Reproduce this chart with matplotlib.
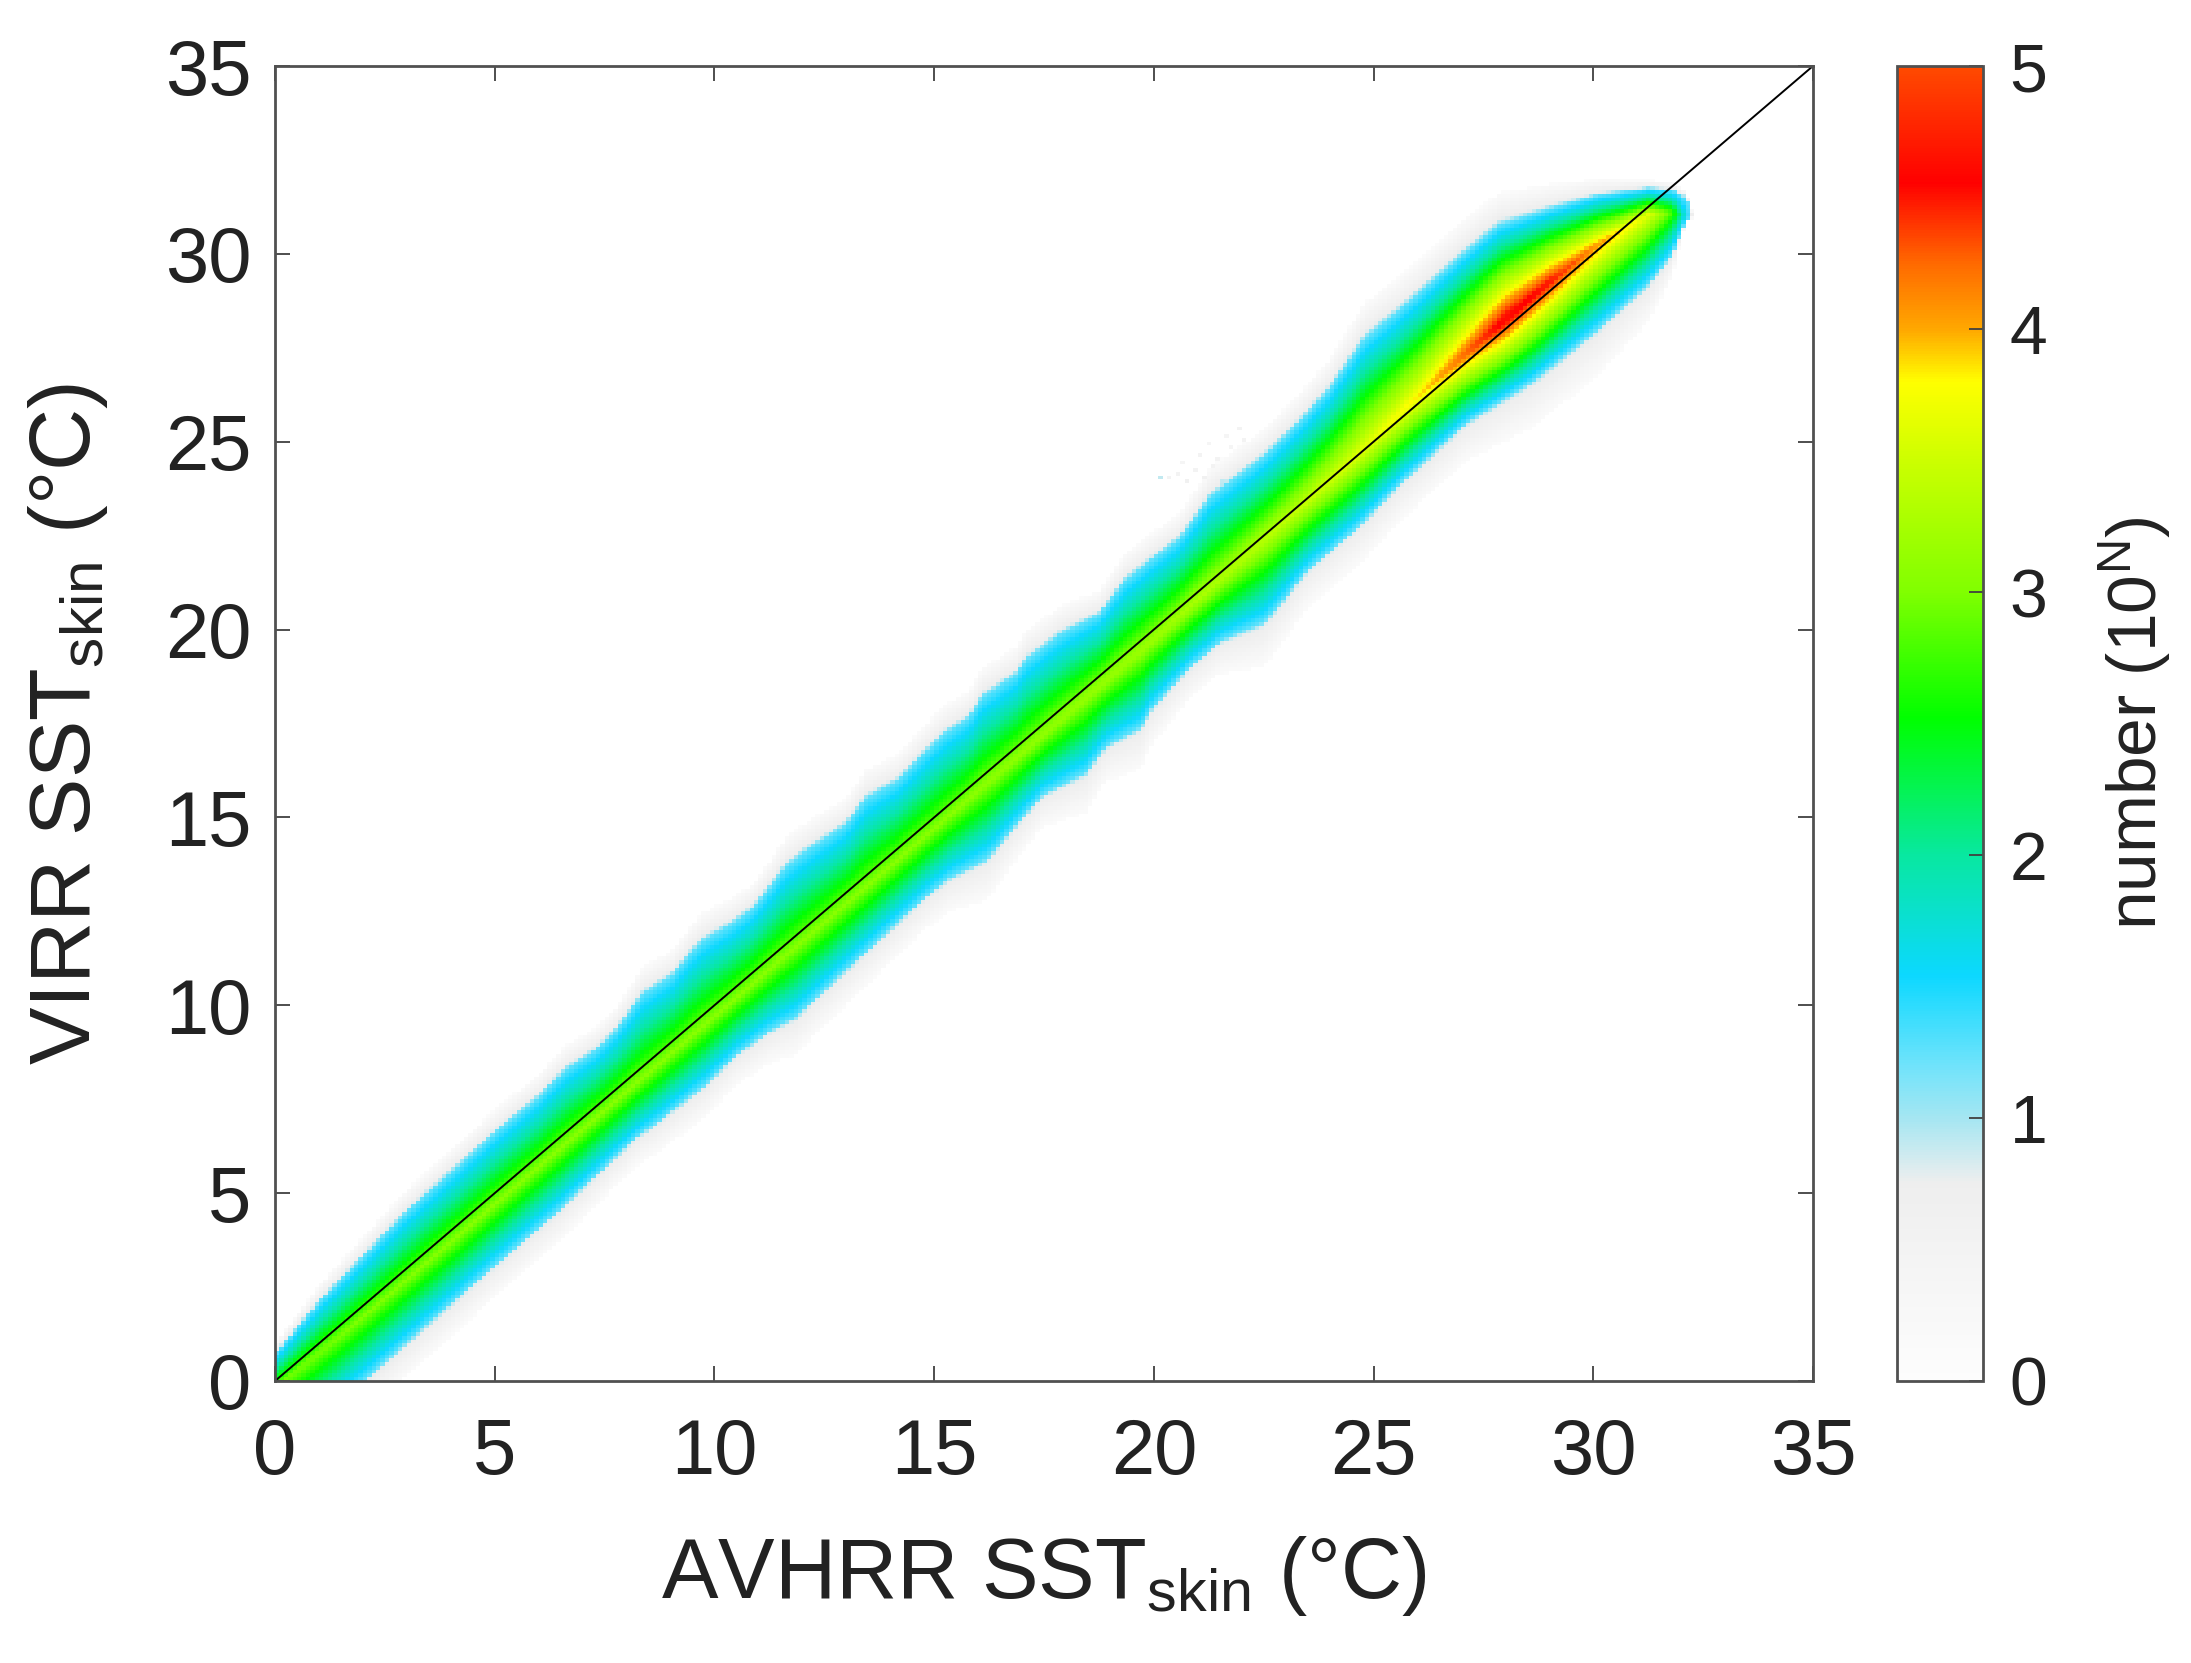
import numpy as np
import matplotlib
matplotlib.use("Agg")
import matplotlib.pyplot as plt
from matplotlib.colors import LinearSegmentedColormap

plt.rcParams['font.family'] = ['Liberation Sans', 'DejaVu Sans']
plt.rcParams['mathtext.fontset'] = 'custom'
plt.rcParams['mathtext.rm'] = 'Liberation Sans'
plt.rcParams['mathtext.default'] = 'rm'

# Ridge of the band and its peak level (deg C, log10 count)
ridge_x = [0.0, 2.0, 5.0, 10.0, 15.0, 20.0, 23.0, 24.5, 26.0, 27.1, 28.0, 29.0, 30.1, 31.25, 31.8, 32.1, 32.3]
ridge_y = [-0.2, 1.7, 4.7, 9.7, 14.7, 19.75, 22.9, 24.5, 26.2, 27.35, 28.25, 29.25, 30.25, 31.05, 31.1, 31.0, 31.0]
peak_level = [2.95, 3.0, 3.05, 3.05, 3.05, 3.2, 3.4, 3.6, 3.85, 4.3, 4.7, 4.55, 4.1, 3.65, 2.8, 1.6, 0.8]

# Edge of the cyan zone above the ridge
upper_x = [0.0, 1.0, 2.0, 3.0, 5.1, 6.02, 6.6, 7.3, 7.76, 8.37, 9.05, 9.45, 9.75, 10.4, 10.9, 11.63, 12.08, 12.99, 13.45, 14.2, 14.6, 15.2, 15.8, 16.1, 16.86, 17.1, 17.9, 18.75, 19.35, 20.0, 20.57, 21.0, 21.25, 21.7, 22.5, 23.3, 24.0, 24.8, 25.6, 27.1, 27.85, 29.0, 30.1, 31.25, 31.8, 32.1, 32.3]
upper_y = [0.7, 2.1, 3.3, 4.5, 6.7, 7.57, 8.27, 8.8, 9.33, 10.3, 10.8, 11.37, 11.73, 12.17, 12.6, 13.7, 14.1, 14.8, 15.5, 16.0, 16.5, 17.2, 17.66, 18.2, 18.8, 19.2, 19.9, 20.4, 21.3, 21.9, 22.4, 23.06, 23.5, 23.9, 24.6, 25.5, 26.4, 27.75, 28.5, 30.05, 30.76, 31.2, 31.56, 31.74, 31.7, 31.5, 31.1]

# Edge of the cyan zone below the ridge
lower_x = [0.0, 2.0, 5.0, 6.45, 8.22, 8.75, 9.8, 10.5, 11.25, 11.85, 12.3, 14.8, 15.35, 16.2, 16.5, 16.85, 17.46, 18.45, 18.9, 19.7, 19.95, 20.8, 21.5, 22.5, 22.95, 23.5, 24.7, 25.6, 27.1, 28.6, 30.1, 31.25, 31.8, 32.1, 32.3]
lower_y = [-2.0, 0.0, 3.1, 4.55, 6.5, 6.94, 7.9, 8.7, 9.33, 9.7, 10.2, 12.9, 13.4, 13.9, 14.3, 14.8, 15.6, 16.2, 16.9, 17.4, 17.9, 19.0, 19.7, 20.2, 20.8, 21.6, 22.8, 23.9, 25.5, 26.6, 28.0, 29.2, 30.0, 30.9, 30.95]

# Stray sparse cells above the band around (21, 24)
stray_x = [20.3, 20.5, 20.7, 20.9, 21.1, 21.3, 20.6, 21.0, 21.4, 21.7, 21.2, 21.6, 21.9, 21.5, 22.0, 20.1, 21.8]
stray_y = [24.0, 24.1, 23.9, 24.2, 24.0, 24.3, 24.4, 24.6, 24.5, 24.8, 24.9, 25.1, 25.3, 23.9, 25.0, 24.0, 24.1]
stray_n = [0.5, 0.5, 0.6, 0.5, 0.6, 0.5, 0.4, 0.5, 0.5, 0.4, 0.4, 0.4, 0.5, 0.9, 0.5, 0.9, 0.8]

# Colormap: level and colour
cmap_levels = [0, 0.3, 0.75, 1.0, 1.2, 1.54, 2.0, 2.52, 3.0, 3.5, 3.8, 4.0, 4.25, 4.56, 5.0]
cmap_colors = ['#fdfdfd', '#f7f7f7', '#eeeeee', '#a4e6f2', '#6fe3fb', '#0cd8ff', '#08e8a0', '#00ff00',
               '#80ff00', '#ccff00', '#ffff00', '#ffa800', '#ff6a00', '#ff0000', '#ff4a00']

x_ticks = [0, 5, 10, 15, 20, 25, 30, 35]
y_ticks = [0, 5, 10, 15, 20, 25, 30, 35]
cbar_ticks = [0, 1, 2, 3, 4, 5]
x_label = 'AVHRR SST$_{\\mathrm{skin}}$ (°C)'
y_label = 'VIRR SST$_{\\mathrm{skin}}$ (°C)'
cbar_label = 'number (10$^{\\mathrm{N}}$)'

cmap = LinearSegmentedColormap.from_list(
    'band', [(v / 5, c) for v, c in zip(cmap_levels, cmap_colors)], N=512)

edges = np.arange(0, 35.05, 0.1)
centres = 0.5 * (edges[:-1] + edges[1:])
X, Y = np.meshgrid(centres, centres)
R = np.interp(X, ridge_x, ridge_y)
U = np.interp(X, upper_x, upper_y)
L = np.interp(X, lower_x, lower_y)
P = np.interp(X, ridge_x, peak_level)
above = Y >= R
d = np.where(above, (Y - R) / np.maximum(U - R, 0.05), (R - Y) / np.maximum(R - L, 0.05))
fringe = np.where(above, 0.28, 0.5)
edge_level = 1.25
core = edge_level + (P - edge_level) * (1 - np.clip(d, 0, 1))
tail = np.where(d < 1.05, edge_level - (d - 1) / 0.05 * 0.45, 0.8 - (d - 1.05) / fringe * 0.7)
H = np.where(d <= 1, core, tail)
H = np.where(P < edge_level, P - d, H)
H[X > ridge_x[-1]] = -1
for sx, sy, sn in zip(stray_x, stray_y, stray_n):
    H[int(sy * 10), int(sx * 10)] = max(H[int(sy * 10), int(sx * 10)], sn)
H = np.ma.masked_less(H, 0.1)

W, Hpx = 2191, 1663
fig = plt.figure(figsize=(W / 100, Hpx / 100), dpi=100)
ax = fig.add_axes([275 / W, 1 - 1381 / Hpx, (1813 - 275) / W, (1381 - 66) / Hpx])
mesh = ax.pcolormesh(edges, edges, H, cmap=cmap, vmin=0, vmax=5, shading='flat', rasterized=True)
ax.plot([0, 35], [0, 35], color='black', lw=1.4)
ax.set_xlim(0, 35)
ax.set_ylim(0, 35)
ax.set_xticks(x_ticks)
ax.set_yticks(y_ticks)
ax.tick_params(direction='in', top=True, right=True, length=10.5, width=1.3, color='#404040',
               labelsize=56, labelcolor='#222222')
ax.tick_params(axis='x', pad=26)
ax.tick_params(axis='y', pad=17)
for s in ax.spines.values():
    s.set_linewidth(2.0)
    s.set_color('#505050')
ax.set_xlabel(x_label, fontsize=61, color='#222222', va='baseline')
ax.xaxis.set_label_coords(0.5, -0.165)
ax.set_ylabel(y_label, fontsize=62, color='#222222', va='baseline', rotation_mode='anchor')
ax.yaxis.set_label_coords(-0.12, 0.5)

cax = fig.add_axes([1897 / W, 1 - 1381 / Hpx, (1983 - 1897) / W, (1381 - 66) / Hpx])
cb = fig.colorbar(mesh, cax=cax)
cb.set_ticks(cbar_ticks)
cb.ax.tick_params(direction='in', length=10, width=1.3, color='#404040',
                  labelsize=49, labelcolor='#222222', pad=19)
cb.outline.set_edgecolor('#505050')
cb.outline.set_linewidth(2.0)
cb.set_label(cbar_label, fontsize=50, color='#222222', va='baseline', rotation_mode='anchor')
cb.ax.yaxis.set_label_coords(3.02, 0.5)

fig.savefig('out.png', dpi=100, facecolor='white')
